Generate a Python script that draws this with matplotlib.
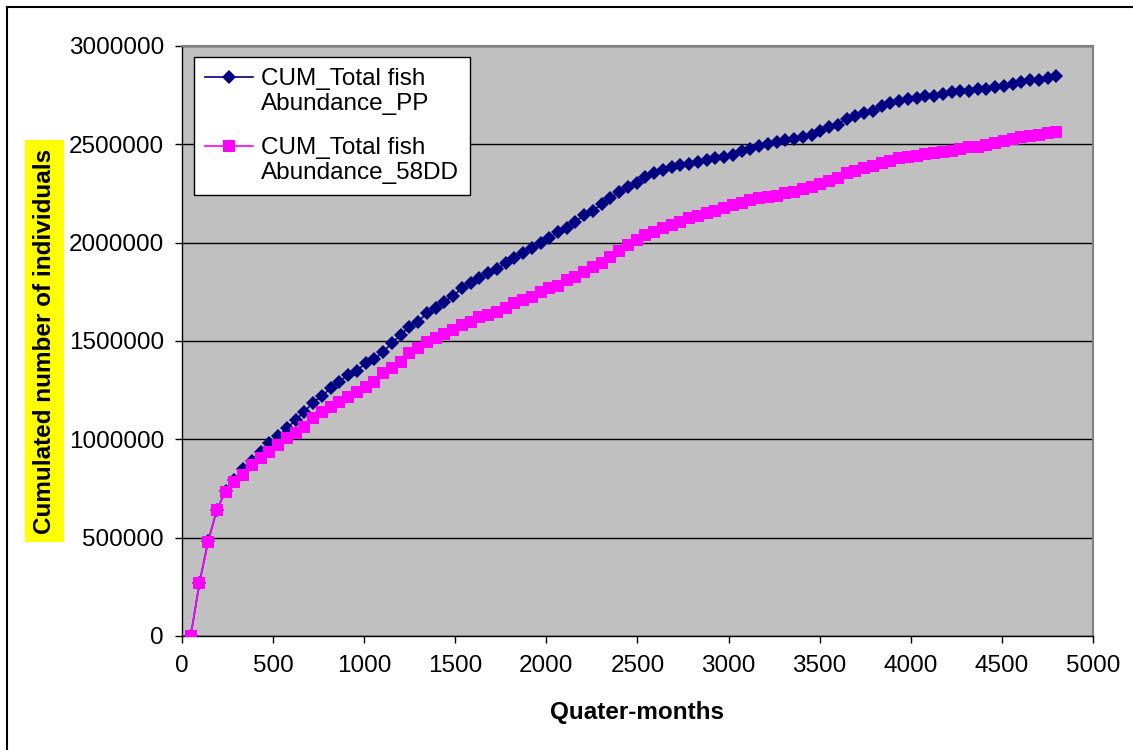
import matplotlib
matplotlib.use("Agg")
import matplotlib.pyplot as plt
from matplotlib.lines import Line2D
from matplotlib.legend_handler import HandlerLine2D
import matplotlib.transforms as mtransforms

plt.rcParams['font.family'] = ['Liberation Sans', 'DejaVu Sans']

#dane
quarter_months = [48, 96, 144, 192, 240, 288, 336, 384, 432, 480,
                  528, 576, 624, 672, 720, 768, 816, 864, 912, 960,
                  1008, 1056, 1104, 1152, 1200, 1248, 1296, 1344, 1392, 1440,
                  1488, 1536, 1584, 1632, 1680, 1728, 1776, 1824, 1872, 1920,
                  1968, 2016, 2064, 2112, 2160, 2208, 2256, 2304, 2352, 2400,
                  2448, 2496, 2544, 2592, 2640, 2688, 2736, 2784, 2832, 2880,
                  2928, 2976, 3024, 3072, 3120, 3168, 3216, 3264, 3312, 3360,
                  3408, 3456, 3504, 3552, 3600, 3648, 3696, 3744, 3792, 3840,
                  3888, 3936, 3984, 4032, 4080, 4128, 4176, 4224, 4272, 4320,
                  4368, 4416, 4464, 4512, 4560, 4608, 4656, 4704, 4752, 4800]

cum_pp = [0, 270000, 483000, 643000, 738000, 792000, 850000, 892000, 937000, 980000,
          1017000, 1056000, 1098000, 1141000, 1187000, 1220000, 1260000, 1293000, 1327000, 1349000,
          1387000, 1407000, 1446000, 1488000, 1531000, 1573000, 1598000, 1641000, 1666000, 1700000,
          1729000, 1768000, 1793000, 1819000, 1844000, 1865000, 1895000, 1920000, 1949000, 1971000,
          1997000, 2022000, 2056000, 2073000, 2107000, 2141000, 2163000, 2195000, 2229000, 2256000,
          2282000, 2302000, 2333000, 2353000, 2370000, 2383000, 2395000, 2400000, 2412000, 2420000,
          2429000, 2437000, 2446000, 2468000, 2475000, 2492000, 2502000, 2514000, 2522000, 2526000,
          2539000, 2548000, 2569000, 2588000, 2600000, 2631000, 2644000, 2661000, 2670000, 2695000,
          2709000, 2721000, 2729000, 2738000, 2746000, 2746000, 2755000, 2767000, 2772000, 2772000,
          2780000, 2780000, 2789000, 2797000, 2806000, 2818000, 2828000, 2828000, 2835000, 2848000]

cum_58dd = [0, 268000, 480000, 641000, 734000, 785000, 819000, 870000, 904000, 937000,
            971000, 1005000, 1031000, 1064000, 1107000, 1141000, 1166000, 1191000, 1217000, 1242000,
            1268000, 1293000, 1336000, 1361000, 1395000, 1437000, 1463000, 1497000, 1514000, 1536000,
            1556000, 1581000, 1598000, 1621000, 1632000, 1649000, 1666000, 1692000, 1709000, 1725000,
            1751000, 1768000, 1780000, 1810000, 1827000, 1853000, 1878000, 1899000, 1929000, 1958000,
            1988000, 2014000, 2039000, 2056000, 2073000, 2090000, 2107000, 2124000, 2136000, 2149000,
            2163000, 2175000, 2192000, 2204000, 2217000, 2226000, 2231000, 2237000, 2251000, 2260000,
            2272000, 2282000, 2297000, 2312000, 2327000, 2353000, 2365000, 2378000, 2390000, 2404000,
            2417000, 2429000, 2438000, 2441000, 2451000, 2458000, 2463000, 2468000, 2475000, 2485000,
            2488000, 2497000, 2509000, 2519000, 2526000, 2536000, 2543000, 2548000, 2556000, 2565000]

series_labels = ["CUM_Total fish\nAbundance_PP", "CUM_Total fish\nAbundance_58DD"]
x_ticks = [0, 500, 1000, 1500, 2000, 2500, 3000, 3500, 4000, 4500, 5000]
y_ticks = [0, 500000, 1000000, 1500000, 2000000, 2500000, 3000000]


#uchwyt legendy wyrownany do pierwszej linii tekstu
class TopLineHandler(HandlerLine2D):
    def __init__(self, dy=0, **kw):
        super().__init__(**kw)
        self.dy = dy

    def create_artists(self, legend, orig_handle, xdescent, ydescent, width, height, fontsize, trans):
        arts = super().create_artists(legend, orig_handle, xdescent, ydescent, width, height, fontsize, trans)
        shift = mtransforms.Affine2D().translate(0, self.dy * fontsize)
        for a in arts:
            a.set_transform(shift + trans)
        return arts


fig = plt.figure(figsize=(11.33, 7.5), dpi=100)
ax = fig.add_axes([0.1606, 0.152, 0.804, 0.7867])
ax.set_facecolor('#C0C0C0')

l1, = ax.plot(quarter_months, cum_pp, color='#000080', lw=1.2, marker='D', ms=7,
              markeredgewidth=0, label=series_labels[0], zorder=3)
l2, = ax.plot(quarter_months, cum_58dd, color='#FF00FF', lw=1.2, marker='s', ms=8,
              markeredgewidth=0, label=series_labels[1], zorder=4)

ax.set_xlim(0, 5000)
ax.set_ylim(0, 3000000)
ax.set_xticks(x_ticks)
ax.set_yticks(y_ticks)
ax.set_xticklabels([str(t) for t in x_ticks])
ax.set_yticklabels([str(t) for t in y_ticks])
ax.tick_params(axis='both', direction='out', length=5, width=1, labelsize=17.5, colors='black')
ax.tick_params(axis='y', pad=8)
ax.tick_params(axis='x', pad=9)
ax.yaxis.grid(True, color='black', lw=1)
ax.set_axisbelow(True)

for s in ['top', 'right']:
    ax.spines[s].set_color('#808080')
    ax.spines[s].set_linewidth(1.5)
for s in ['left', 'bottom']:
    ax.spines[s].set_color('black')
    ax.spines[s].set_linewidth(1)

ax.set_xlabel('Quater-months', fontsize=17.5, fontweight='bold', labelpad=17)
ax.set_ylabel('Cumulated number of individuals', fontsize=17.5, fontweight='bold', labelpad=9,
              bbox=dict(facecolor='#FFFF00', edgecolor='none', pad=6))

leg = ax.legend(handles=[l1, l2], loc='upper left', bbox_to_anchor=(0.013, 0.982),
                fontsize=17.5, frameon=True, fancybox=False, framealpha=1,
                edgecolor='black', handlelength=2.0, handletextpad=0.3,
                labelspacing=0.9, borderpad=0.45, borderaxespad=0,
                handler_map={l1: TopLineHandler(dy=0.6), l2: TopLineHandler(dy=0.6)})
leg.get_frame().set_linewidth(1)

#ramka calego wykresu (lewa i gorna krawedz)
fig.add_artist(Line2D([7 / 1133, 7 / 1133], [0, 1 - 7 / 750], color='black', lw=1.5))
fig.add_artist(Line2D([7 / 1133, 1], [1 - 7 / 750, 1 - 7 / 750], color='black', lw=1.5))

plt.savefig('out.png', dpi=100)
